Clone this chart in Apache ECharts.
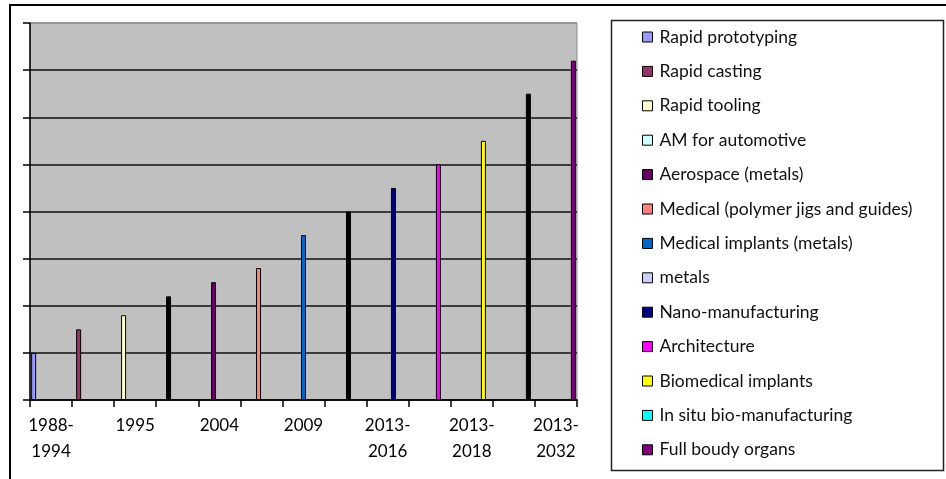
<!DOCTYPE html>
<html>
<head>
<meta charset="utf-8">
<script src="https://cdn.jsdelivr.net/npm/echarts@6/dist/echarts.min.js"></script>
<style>
html,body{margin:0;padding:0;background:#fff;}
#chart{width:946px;height:479px;}
</style>
</head>
<body>
<div id="chart"></div>
<script>
// Categories (13 slots; only every other label is shown in the original)
var categories = ['1988-\n1994', '', '1995', '', '2004', '', '2009', '', '2013-\n2016', '', '2013-\n2018', '', '2013-\n2032'];
var seriesNames = ['Rapid prototyping', 'Rapid casting', 'Rapid tooling', 'AM for automotive', 'Aerospace (metals)',
  'Medical (polymer jigs and guides)', 'Medical implants (metals)', 'metals', 'Nano-manufacturing', 'Architecture',
  'Biomedical implants', 'In situ bio-manufacturing', 'Full boudy organs'];
// One value per series, each in its own category slot
var seriesValues = [1.0, 1.5, 1.8, 2.2, 2.5, 2.8, 3.5, 4.0, 4.5, 5.0, 5.5, 6.5, 7.2];
var yTicks = [0, 1, 2, 3, 4, 5, 6, 7, 8];

// styles
var legendColors = ['#9999FF', '#993366', '#FFFFCC', '#CCFFFF', '#660066', '#FF8080', '#0066CC', '#CCCCFF',
  '#000080', '#FF00FF', '#FFFF00', '#00FFFF', '#800080'];
var barFills = ['#9999FF', '#993366', '#FFFFCC', '#000000', '#660066', '#FF8080', '#0066CC', '#000000',
  '#000080', '#FF00FF', '#FFFF00', '#000000', '#800080'];

var chart = echarts.init(document.getElementById('chart'), null, {renderer: 'canvas'});

var series = seriesNames.map(function (name, i) {
  var data = categories.map(function (c, j) {
    if (j === i) {
      return {value: seriesValues[i], itemStyle: {color: barFills[i]}};
    }
    return '-';
  });
  return {
    name: name,
    type: 'bar',
    data: data,
    barWidth: 5,
    barGap: '-42%',
    itemStyle: {color: legendColors[i], borderColor: '#000', borderWidth: 1},
    emphasis: {disabled: true},
    animation: false
  };
});

var splitColors = yTicks.map(function (t, k) { return k === yTicks.length - 1 ? '#8c8c8c' : '#111'; });

var option = {
  animation: false,
  grid: {
    left: 30, top: 23, width: 547, height: 377,
    show: true, backgroundColor: '#C0C0C0', borderColor: '#8c8c8c', borderWidth: 1
  },
  xAxis: {
    type: 'category',
    data: categories,
    boundaryGap: true,
    axisLine: {lineStyle: {color: '#000', width: 1.5}},
    axisTick: {show: true, interval: 0, length: 7, lineStyle: {color: '#000', width: 1.5}},
    axisLabel: {
      interval: 1, margin: 13, color: '#000',
      fontFamily: 'Lato', fontSize: 17, lineHeight: 26
    },
    splitLine: {show: false}
  },
  yAxis: {
    type: 'value',
    min: yTicks[0], max: yTicks[yTicks.length - 1], interval: 1,
    axisLine: {show: true, lineStyle: {color: '#000', width: 1.5}},
    axisTick: {show: true, length: 7, lineStyle: {color: '#000', width: 1.5}},
    axisLabel: {show: false},
    splitLine: {show: true, lineStyle: {color: splitColors, width: 1.5}}
  },
  legend: {
    orient: 'vertical',
    left: 642, top: 28, padding: 0,
    itemWidth: 10, itemHeight: 10, itemGap: 16.4,
    icon: 'rect',
    data: seriesNames,
    itemStyle: {borderColor: '#000', borderWidth: 1},
    textStyle: {fontFamily: 'Lato', fontSize: 17.5, color: '#111', lineHeight: 17, padding: [0, 0, 0, 2]},
    selectedMode: false
  },
  graphic: [
    {type: 'rect', z: 100, silent: true, shape: {x: 10, y: 5, width: 960, height: 520},
     style: {fill: 'none', stroke: '#000', lineWidth: 2}},
    {type: 'rect', z: 100, silent: true, shape: {x: 611.5, y: 20.5, width: 332, height: 450},
     style: {fill: 'none', stroke: '#222', lineWidth: 1.5}}
  ],
  series: series
};
chart.setOption(option);
</script>
</body>
</html>
